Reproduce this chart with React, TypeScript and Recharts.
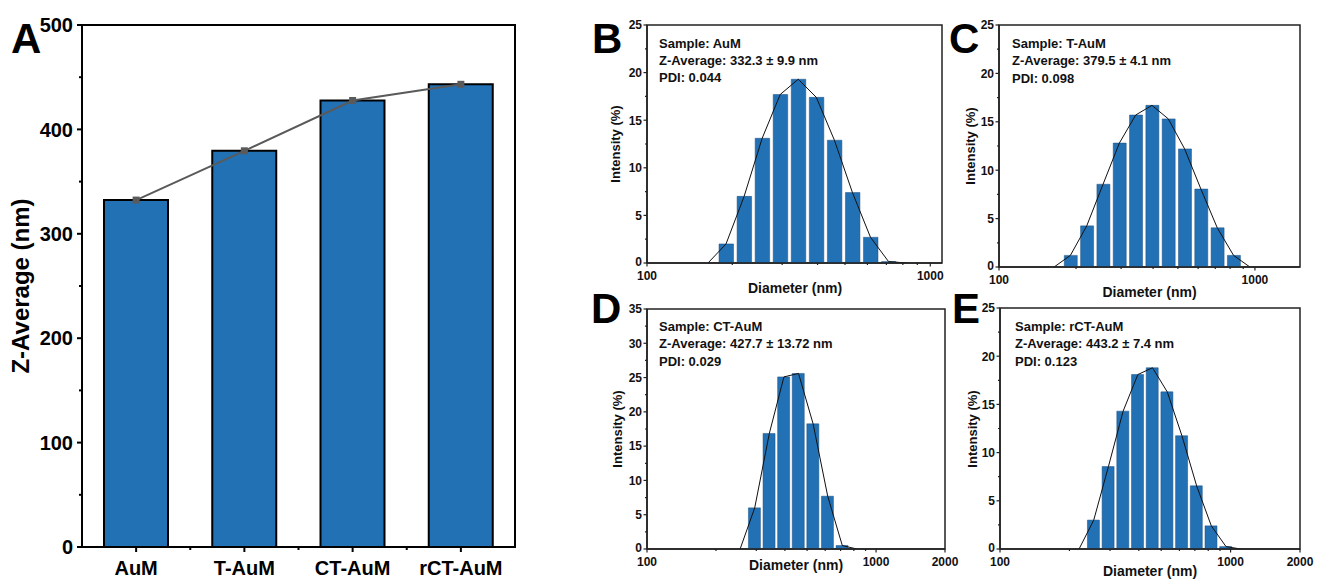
import React from 'react';
import { ComposedChart, Bar, Line, XAxis, YAxis, ReferenceArea } from 'recharts';

const FONT = '"Liberation Sans", Arial, Helvetica, sans-serif';
const BAR_BLUE = '#2271B5';

// ---------- Panel A data ----------
const samples = ['AuM', 'T-AuM', 'CT-AuM', 'rCT-AuM'];
const zAverage = [332.3, 379.5, 427.7, 443.2];
const zTicks = [0, 50, 100, 150, 200, 250, 300, 350, 400, 450, 500];

// ---------- DLS data (Malvern log-spaced size bins, nm) ----------
const diameterBins = [164.2, 190.1, 220.2, 255.0, 295.3, 342.0, 396.1, 458.7, 531.2, 615.1, 712.4, 825.0, 955.4, 1106];

const intensityAuM = [null, 2.0, 7.0, 13.1, 17.7, 19.3, 17.4, 12.9, 7.4, 2.7, 0.15, null, null, null];
const fitAuM = [0, 2.0, 7.0, 13.1, 17.7, 19.3, 17.4, 12.9, 7.4, 2.7, 0.15, 0, null, null];

const intensityTAuM = [null, 1.2, 4.25, 8.55, 12.8, 15.7, 16.7, 15.3, 12.2, 8.05, 4.05, 1.2, null, null];
const fitTAuM = [0, 1.2, 4.25, 8.55, 12.8, 15.7, 16.7, 15.3, 12.2, 8.05, 4.05, 1.2, 0, null];

const intensityCTAuM = [null, null, null, null, 6.0, 16.85, 25.1, 25.6, 18.25, 7.7, 0.5, null, null, null];
const fitCTAuM = [null, null, null, 0, 6.0, 16.85, 25.1, 25.6, 18.25, 7.7, 0.5, 0, null, null];

const intensityRCTAuM = [null, null, null, 3.0, 8.55, 14.3, 18.1, 18.8, 16.3, 11.75, 6.55, 2.4, 0.25, null];
const fitRCTAuM = [null, null, 0, 3.0, 8.55, 14.3, 18.1, 18.8, 16.3, 11.75, 6.55, 2.4, 0.25, 0];

const zAverageText = ['332.3 ± 9.9 nm', '379.5 ± 4.1 nm', '427.7 ± 13.72 nm', '443.2 ± 7.4 nm'];
const pdiText = ['0.044', '0.098', '0.029', '0.123'];

const logTicksTo1000 = [100, 200, 300, 400, 500, 600, 700, 800, 900, 1000];
const logTicksTo2000 = [100, 200, 300, 400, 500, 600, 700, 800, 900, 1000, 2000];

// ---------- Panel geometry ----------
type Panel = {
  letter: string;
  idx: number;
  left: number; top: number; width: number; height: number;
  mTop: number; mRight: number;
  yAxisWidth: number; xAxisHeight: number;
  xMax: number; xTicks: number[]; xLabels: number[];
  yMax: number;
  barSize: number;
  bars: (number | null)[]; fit: (number | null)[];
  letterPos: [number, number];
  textPos: [number, number];
  yTitlePos: [number, number];
  xTitlePos: [number, number];
};

const dlsPanels: Panel[] = [
  {
    letter: 'B', idx: 0, left: 590, top: 0, width: 362, height: 300, mTop: 25, mRight: 10,
    yAxisWidth: 57, xAxisHeight: 37, xMax: 1100, xTicks: logTicksTo1000, xLabels: [100, 1000], yMax: 25,
    barSize: 14.5,
    bars: intensityAuM, fit: fitAuM,
    letterPos: [592, 53], textPos: [659, 47.5], yTitlePos: [619.5, 144], xTitlePos: [795, 292.5],
  },
  {
    letter: 'C', idx: 1, left: 940, top: 0, width: 377, height: 300, mTop: 25, mRight: 17,
    yAxisWidth: 59, xAxisHeight: 33, xMax: 1500, xTicks: logTicksTo1000, xLabels: [100, 1000], yMax: 25,
    barSize: 13,
    bars: intensityTAuM, fit: fitTAuM,
    letterPos: [949, 53], textPos: [1012, 48], yTitlePos: [975, 146], xTitlePos: [1149.5, 296.5],
  },
  {
    letter: 'D', idx: 2, left: 590, top: 290, width: 372, height: 291, mTop: 19, mRight: 17,
    yAxisWidth: 57, xAxisHeight: 32, xMax: 2000, xTicks: logTicksTo2000, xLabels: [100, 1000, 2000], yMax: 35,
    barSize: 12,
    bars: intensityCTAuM, fit: fitCTAuM,
    letterPos: [591, 323], textPos: [659, 331], yTitlePos: [621.5, 429], xTitlePos: [796, 570],
  },
  {
    letter: 'E', idx: 3, left: 940, top: 290, width: 377, height: 291, mTop: 18, mRight: 17,
    yAxisWidth: 60, xAxisHeight: 32, xMax: 2000, xTicks: logTicksTo2000, xLabels: [100, 1000, 2000], yMax: 25,
    barSize: 12,
    bars: intensityRCTAuM, fit: fitRCTAuM,
    letterPos: [952, 323], textPos: [1015, 331], yTitlePos: [977, 429], xTitlePos: [1150, 576],
  },
];

// ---------- tick renderers ----------
const A_BAND = (515 - 82) / samples.length;

const AYTick = (props: any) => {
  const { x, y, payload } = props;
  const major = payload.value % 100 === 0;
  return (
    <g>
      <line x1={x} x2={x - (major ? 5 : 3)} y1={y} y2={y} stroke="#000" strokeWidth={2} />
      {major && (
        <text x={x - 9} y={y} dy="0.36em" textAnchor="end" fontSize={20} fontWeight="bold" fill="#000" fontFamily={FONT}>
          {payload.value}
        </text>
      )}
    </g>
  );
};

const AXTick = (props: any) => {
  const { x, y, payload, index } = props;
  return (
    <g>
      <line x1={x} x2={x} y1={y} y2={y + 5} stroke="#000" strokeWidth={2} />
      {index < samples.length - 1 && (
        <line x1={x + A_BAND / 2} x2={x + A_BAND / 2} y1={y} y2={y + 3} stroke="#000" strokeWidth={2} />
      )}
      <text x={x} y={y + 28} textAnchor="middle" fontSize={20} fontWeight="bold" fill="#000" fontFamily={FONT}>
        {payload.value}
      </text>
    </g>
  );
};

const DlsYTick = (props: any) => {
  const { x, y, payload } = props;
  const major = payload.value % 5 === 0;
  const isZero = payload.value === 0;
  return (
    <g>
      <line x1={x} x2={x - (major ? 3.5 : 2)} y1={y} y2={y} stroke="#222" strokeWidth={1.2} />
      {major && (
        <text
          x={x - 5}
          y={isZero ? y - 1 : y}
          dy="0.36em"
          textAnchor="end"
          fontSize={12}
          fontWeight="bold"
          fill="#111"
          fontFamily={FONT}
        >
          {payload.value}
        </text>
      )}
    </g>
  );
};

const makeDlsXTick = (labels: number[]) => (props: any) => {
  const { x, y, payload } = props;
  const major = labels.includes(payload.value);
  return (
    <g>
      <line x1={x} x2={x} y1={y} y2={y + (major ? 3.5 : 2)} stroke="#222" strokeWidth={1.2} />
      {major && (
        <text x={x} y={y + 16.5} textAnchor="middle" fontSize={12} fontWeight="bold" fill="#111" fontFamily={FONT}>
          {payload.value}
        </text>
      )}
    </g>
  );
};

const SquareDot = (props: any) => {
  const { cx, cy } = props;
  if (cx == null || cy == null) return null;
  return <rect x={cx - 3.5} y={cy - 3.5} width={7} height={7} fill="#5a5a5a" />;
};

// ---------- panels ----------
const PanelA = () => {
  const data = samples.map((name, i) => ({ name, z: zAverage[i] }));
  return (
    <div style={{ position: 'absolute', left: 0, top: 0 }}>
      <ComposedChart
        width={530}
        height={581}
        data={data}
        margin={{ top: 25, right: 15, bottom: 0, left: 0 }}
        style={{ overflow: 'visible' }}
      >
        <XAxis
          dataKey="name"
          type="category"
          height={34}
          interval={0}
          tickSize={0}
          tickMargin={0}
          tickLine={false}
          axisLine={{ stroke: '#000', strokeWidth: 2 }}
          tick={AXTick}
        />
        <YAxis
          type="number"
          domain={[0, 500]}
          ticks={zTicks}
          interval={0}
          width={82}
          tickSize={0}
          tickMargin={0}
          tickLine={false}
          axisLine={{ stroke: '#000', strokeWidth: 2 }}
          tick={AYTick}
          allowDataOverflow
        />
        <ReferenceArea y1={0} y2={500} fill="none" stroke="#000" strokeWidth={2} />
        <Bar dataKey="z" barSize={64} fill={BAR_BLUE} stroke="#000" strokeWidth={2} isAnimationActive={false} />
        <Line
          dataKey="z"
          type="linear"
          stroke="#5a5a5a"
          strokeWidth={2}
          dot={<SquareDot />}
          activeDot={false}
          isAnimationActive={false}
        />
      </ComposedChart>
    </div>
  );
};

const DlsPanel = ({ p }: { p: Panel }) => {
  const data = diameterBins
    .map((d, i) => ({ d, intensity: p.bars[i], fit: p.fit[i] }))
    .filter((pt) => pt.d >= 100 && pt.d <= p.xMax);
  const yTicks: number[] = [];
  for (let v = 0; v <= p.yMax; v += 2.5) yTicks.push(v);
  return (
    <div style={{ position: 'absolute', left: p.left, top: p.top }}>
      <ComposedChart
        width={p.width}
        height={p.height}
        data={data}
        margin={{ top: p.mTop, right: p.mRight, bottom: 0, left: 0 }}
        style={{ overflow: 'visible' }}
      >
        <XAxis
          dataKey="d"
          type="number"
          scale="log"
          domain={[100, p.xMax]}
          allowDataOverflow
          ticks={p.xTicks}
          interval={0}
          height={p.xAxisHeight}
          tickSize={0}
          tickMargin={0}
          tickLine={false}
          axisLine={{ stroke: '#222', strokeWidth: 1.5 }}
          tick={makeDlsXTick(p.xLabels)}
        />
        <YAxis
          type="number"
          domain={[0, p.yMax]}
          allowDataOverflow
          ticks={yTicks}
          interval={0}
          width={p.yAxisWidth}
          tickSize={0}
          tickMargin={0}
          tickLine={false}
          axisLine={{ stroke: '#222', strokeWidth: 1.5 }}
          tick={DlsYTick}
        />
        <ReferenceArea y1={0} y2={p.yMax} fill="none" stroke="#222" strokeWidth={1.5} />
        <Bar
          dataKey="intensity"
          fill={BAR_BLUE}
          stroke="#1d4f80"
          strokeWidth={0.5}
          barSize={p.barSize}
          isAnimationActive={false}
        />
        <Line
          dataKey="fit"
          type="linear"
          stroke="#111"
          strokeWidth={1}
          dot={false}
          activeDot={false}
          isAnimationActive={false}
        />
      </ComposedChart>
    </div>
  );
};

const Overlay = () => (
  <svg
    width={1317}
    height={581}
    style={{ position: 'absolute', left: 0, top: 0, pointerEvents: 'none' }}
    fontFamily={FONT}
  >
    <text x={11} y={53} fontSize={42} fontWeight="bold" fill="#000">A</text>
    <text
      x={29}
      y={286}
      transform="rotate(-90 29 286)"
      textAnchor="middle"
      fontSize={24}
      fontWeight="bold"
      fill="#000"
    >
      Z-Average (nm)
    </text>
    {dlsPanels.map((p) => (
      <g key={p.letter}>
        <text x={p.letterPos[0]} y={p.letterPos[1]} fontSize={42} fontWeight="bold" fill="#000">
          {p.letter}
        </text>
        <text x={p.textPos[0]} y={p.textPos[1]} fontSize={13} fontWeight="bold" fill="#111">
          {`Sample: ${samples[p.idx]}`}
        </text>
        <text x={p.textPos[0]} y={p.textPos[1] + 17.3} fontSize={13} fontWeight="bold" fill="#111">
          {`Z-Average: ${zAverageText[p.idx]}`}
        </text>
        <text x={p.textPos[0]} y={p.textPos[1] + 34.6} fontSize={13} fontWeight="bold" fill="#111">
          {`PDI: ${pdiText[p.idx]}`}
        </text>
        <text
          x={p.yTitlePos[0]}
          y={p.yTitlePos[1]}
          transform={`rotate(-90 ${p.yTitlePos[0]} ${p.yTitlePos[1]})`}
          textAnchor="middle"
          fontSize={13}
          fontWeight="bold"
          fill="#111"
        >
          Intensity (%)
        </text>
        <text x={p.xTitlePos[0]} y={p.xTitlePos[1]} textAnchor="middle" fontSize={14} fontWeight="bold" fill="#111">
          Diameter (nm)
        </text>
      </g>
    ))}
  </svg>
);

export default function App() {
  return (
    <div
      style={{
        position: 'absolute',
        left: 0,
        top: 0,
        width: 1317,
        height: 581,
        background: '#fff',
        fontFamily: FONT,
      }}
    >
      <PanelA />
      {dlsPanels.map((p) => (
        <DlsPanel key={p.letter} p={p} />
      ))}
      <Overlay />
    </div>
  );
}
